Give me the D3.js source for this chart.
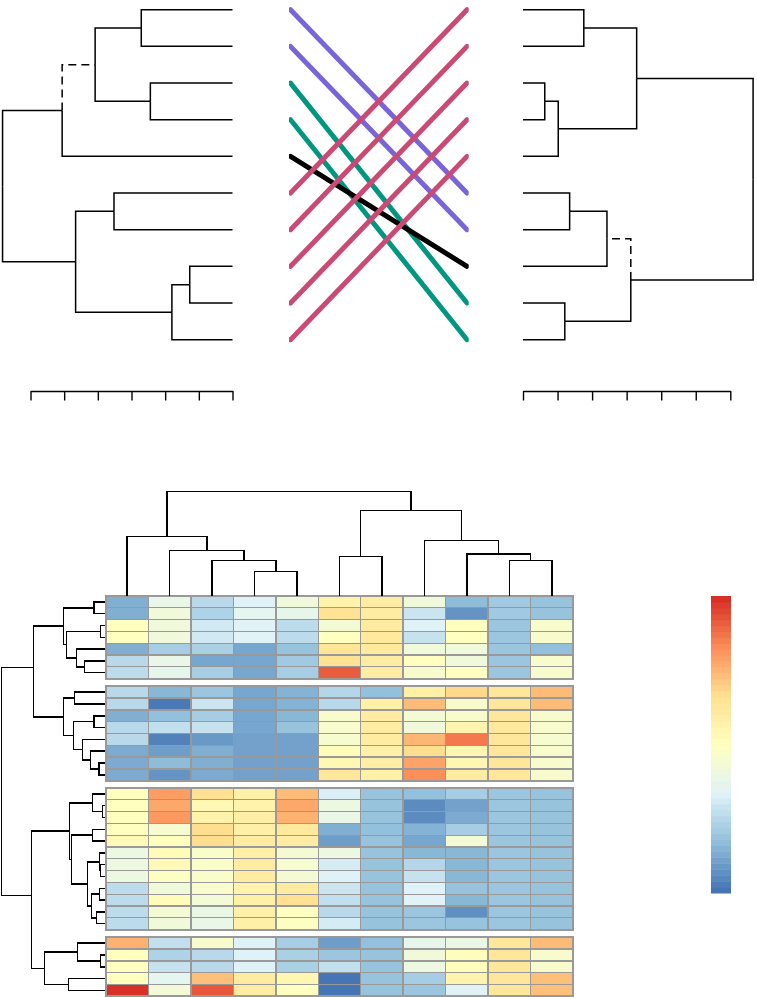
<!DOCTYPE html>
<html>
<head>
<meta charset="utf-8">
<script src="https://cdn.jsdelivr.net/npm/d3@7"></script>
<style>
  html, body { margin: 0; padding: 0; background: #fff; }
  svg { display: block; }
</style>
</head>
<body>
<svg id="chart" width="757" height="997"></svg>
<script>
// tanglegram: node = [height, child, child], leaves are the leaf index
const leftTree = [6.83,
  [5.06, [4.08, [2.71, 0, 1], [2.44, 2, 3]], 4],
  [4.66, [3.52, 5, 6], [1.80, [1.27, 7, 8], 9]]];
const rightTree = [6.66,
  [3.29, [1.76, 0, 1], [1.02, [0.63, 2, 3], 4]],
  [3.12, [2.43, [1.35, 5, 6], 7], [1.21, 8, 9]]];
const leafCount = 10;
// heights whose stem is drawn dashed
const dashedLeft = [4.08];
const dashedRight = [2.43];
const axisTicks = [0, 1, 2, 3, 4, 5, 6];

// left leaf i goes to right leaf connectorTargets[i]
const connectorTargets = [5, 6, 8, 9, 7, 0, 1, 2, 3, 4];
const connectorColors = ['#7A65D8', '#7A65D8', '#009682', '#009682', '#000000',
  '#CB4A73', '#CB4A73', '#CB4A73', '#CB4A73', '#CB4A73'];

// heatmap values on 0..1 of the colour key
const heatBlock1 = [
  [.13, .38, .25, .33, .42, .57, .60, .42, .16, .20, .18],
  [.13, .42, .23, .36, .37, .65, .60, .29, .07, .20, .18],
  [.50, .42, .30, .34, .26, .44, .61, .33, .50, .19, .46],
  [.50, .42, .30, .34, .26, .50, .62, .28, .50, .19, .46],
  [.13, .21, .22, .11, .18, .64, .62, .42, .42, .19, .17],
  [.25, .38, .11, .11, .20, .65, .60, .50, .42, .19, .46],
  [.26, .37, .21, .11, .21, .92, .60, .46, .50, .19, .46]];
const heatBlock2 = [
  [.25, .15, .19, .11, .14, .24, .17, .58, .68, .63, .74],
  [.25, .01, .29, .11, .14, .25, .58, .74, .46, .63, .74],
  [.13, .17, .21, .11, .15, .46, .60, .44, .46, .63, .46],
  [.25, .27, .28, .11, .18, .46, .60, .42, .56, .62, .46],
  [.25, .03, .08, .10, .10, .45, .60, .75, .87, .63, .45],
  [.12, .09, .13, .10, .10, .52, .58, .67, .55, .63, .46],
  [.12, .16, .13, .10, .10, .54, .59, .79, .55, .63, .46],
  [.12, .07, .12, .10, .10, .63, .58, .83, .60, .63, .46]];
const heatBlock3 = [
  [.50, .80, .66, .58, .74, .32, .18, .17, .21, .19, .18],
  [.50, .78, .54, .57, .78, .40, .18, .05, .10, .19, .18],
  [.50, .81, .57, .59, .76, .38, .18, .05, .12, .19, .18],
  [.50, .45, .67, .58, .62, .13, .17, .14, .21, .19, .18],
  [.53, .50, .67, .60, .60, .09, .18, .11, .44, .19, .18],
  [.40, .52, .47, .58, .44, .40, .18, .15, .15, .19, .18],
  [.40, .53, .47, .60, .45, .31, .18, .24, .15, .19, .18],
  [.40, .49, .47, .60, .44, .33, .18, .28, .15, .19, .18],
  [.26, .42, .46, .57, .61, .29, .18, .33, .18, .19, .18],
  [.26, .52, .43, .58, .66, .27, .18, .34, .15, .19, .18],
  [.26, .44, .39, .58, .50, .25, .18, .19, .06, .19, .18],
  [.26, .42, .38, .58, .49, .31, .18, .19, .18, .19, .18]];
const heatBlock4 = [
  [.76, .27, .46, .33, .21, .09, .17, .37, .39, .63, .74],
  [.50, .23, .25, .33, .22, .19, .18, .42, .51, .63, .46],
  [.50, .28, .25, .33, .22, .27, .18, .40, .51, .63, .46],
  [.50, .36, .73, .60, .55, .00, .18, .21, .56, .63, .73],
  [1.0, .43, .93, .60, .50, .00, .18, .19, .34, .63, .73]];
const heatBlocks = [heatBlock1, heatBlock2, heatBlock3, heatBlock4];

const keyColors = ['#4575B4', '#91BFDB', '#E0F3F8', '#FFFFBF', '#FEE090', '#FC8D59', '#D73027'];
const keySteps = 50;

const columnTree = [1,
  [.570, 0, [.433, 1, [.337, 2, [.236, 3, 4]]]],
  [.815, [.375, 5, 6], [.532, 7, [.401, 8, [.337, 9, 10]]]]];
const rowTree = [103.6,
  [72,
    [41.6, [11.3, 0, 1], [38.6, [4.6, 2, 3], [28.6, 4, [20.6, 5, 6]]]],
    [41.6, [31, 7, 8], [32, [11.3, 9, 10], [23, 11, [15, 12, [6.3, 13, 14]]]]]],
  [74,
    [36,
      [12.6, 15, [3, 16, 17]],
      [33.6, [12.6, 18, 19], [17.6, [5.6, 20, [4.6, 21, 22]], [14, [5.6, 23, 24], [9, 25, 26]]]]],
    [61, [28, 27, [4.6, 28, 29]], [36.6, 30, 31]]]];
// the two stems under the row tree's root sit a little above their bracket's middle
const rowRootStemShift = -4;

const svg = d3.select('#chart');

// walks a nested tree and gives every node its height and its position along the leaves
function layoutTree(tree, leafPos) {
  const root = d3.hierarchy(tree, d => Array.isArray(d) ? d.slice(1) : null);
  root.eachAfter(n => {
    if (n.children) {
      n.h = n.data[0];
      n.pos = (n.children[0].pos + n.children[1].pos) / 2;
    } else {
      n.h = 0;
      n.pos = leafPos(n.data);
    }
  });
  return root;
}

// horizontal tree: stems run along x, brackets along y
function drawSideTree(g, root, x, width, dashed, rootShift = 0) {
  root.each(n => {
    if (!n.children) return;
    n.children.forEach(c => {
      const isDashed = dashed && dashed.includes(c.h);
      const y = n === root ? c.pos + rootShift : c.pos;
      g.append('path')
        .attr('d', `M${x(n.h)},${n === root ? n.pos + rootShift : n.pos}L${x(n.h)},${y}L${x(c.h)},${y}`)
        .attr('fill', 'none')
        .attr('stroke', '#000')
        .attr('stroke-width', width)
        .attr('stroke-dasharray', isDashed ? '8,5' : null);
    });
  });
}

// ---------- tanglegram ----------
const leaves = d3.range(leafCount);
const leafY = d3.scalePoint().domain(leaves).range([9.7, 339.7]);
const leftX = d3.scaleLinear().domain([0, 6]).range([232.5, 30.5]);
const rightX = d3.scaleLinear().domain([0, 6]).range([523, 730.3]);

drawSideTree(svg.append('g'), layoutTree(leftTree, leafY), leftX, 1.5, dashedLeft);
drawSideTree(svg.append('g'), layoutTree(rightTree, leafY), rightX, 1.5, dashedRight);

[leftX, rightX].forEach(x => {
  const axis = svg.append('g')
    .attr('transform', 'translate(0,391)')
    .call(d3.axisBottom(x).tickValues(axisTicks).tickFormat('').tickSize(9.5).tickSizeOuter(0));
  axis.selectAll('path, line').attr('stroke', '#000').attr('stroke-width', 1.4);
});

const connX = d3.scaleLinear().domain([0, 1]).range([290.5, 467]);
svg.append('clipPath').attr('id', 'conn-clip')
  .append('rect')
  .attr('x', 289)
  .attr('y', 0)
  .attr('width', 179.7)
  .attr('height', 360);
svg.append('g').attr('clip-path', 'url(#conn-clip)').selectAll('line')
  .data(connectorTargets)
  .enter()
  .append('line')
  .attr('x1', connX(0))
  .attr('x2', connX(1))
  .attr('y1', (d, i) => leafY(i))
  .attr('y2', d => leafY(d))
  .attr('stroke', (d, i) => connectorColors[i])
  .attr('stroke-width', 5)
  .attr('stroke-linecap', 'round');

// ---------- heatmap ----------
const keyDomain = keyColors.map((c, i) => i / (keyColors.length - 1));
const heatColor = d3.scaleLinear().domain(keyDomain).range(keyColors);

const columns = d3.range(heatBlock1[0].length);
const colX = d3.scaleBand().domain(columns).range([106, 573]);
const rowH = 11.8;
const blockTops = [596, 686.3, 788, 937.3];

const rowCentres = [];
heatBlocks.forEach((block, b) => {
  const g = svg.append('g').attr('shape-rendering', 'crispEdges');
  const top = blockTops[b];
  const rowY = d3.scaleBand().domain(d3.range(block.length)).range([top, top + rowH * block.length]);
  block.forEach((row, r) => {
    rowCentres.push(rowY(r) + rowY.bandwidth() / 2);
    g.selectAll(null)
      .data(row)
      .enter()
      .append('rect')
      .attr('x', (d, c) => colX(c))
      .attr('y', rowY(r))
      .attr('width', colX.bandwidth())
      .attr('height', rowY.bandwidth())
      .attr('fill', d => heatColor(d))
      .attr('stroke', '#999')
      .attr('stroke-width', 1.4);
  });
  g.append('rect')
    .attr('x', colX.range()[0])
    .attr('y', top)
    .attr('width', colX.range()[1] - colX.range()[0])
    .attr('height', rowH * block.length)
    .attr('fill', 'none')
    .attr('stroke', '#999')
    .attr('stroke-width', 2);
});

// column dendrogram
const colH = d3.scaleLinear().domain([0, 1]).range([596, 491.3]);
const colRoot = layoutTree(columnTree, c => colX(c) + colX.bandwidth() / 2);
const colG = svg.append('g').attr('shape-rendering', 'crispEdges');
colRoot.each(n => {
  if (!n.children) return;
  n.children.forEach(c => {
    colG.append('path')
      .attr('d', `M${n.pos},${colH(n.h)}L${c.pos},${colH(n.h)}L${c.pos},${colH(c.h)}`)
      .attr('fill', 'none')
      .attr('stroke', '#000')
      .attr('stroke-width', 1.5);
  });
});

// row dendrogram
const rowHeight = d3.scaleLinear().domain([0, 103.6]).range([105.3, 1.7]);
drawSideTree(svg.append('g').attr('shape-rendering', 'crispEdges'),
  layoutTree(rowTree, i => rowCentres[i]), rowHeight, 1.5, null, rowRootStemShift);

// colour key
const keyY = d3.scaleBand().domain(d3.range(keySteps)).range([893, 596]);
svg.append('g').selectAll('rect')
  .data(d3.range(keySteps))
  .enter()
  .append('rect')
  .attr('x', 711)
  .attr('width', 20)
  .attr('y', d => keyY(d))
  .attr('height', keyY.bandwidth() + 0.5)
  .attr('fill', d => heatColor(d / (keySteps - 1)));
</script>
</body>
</html>
